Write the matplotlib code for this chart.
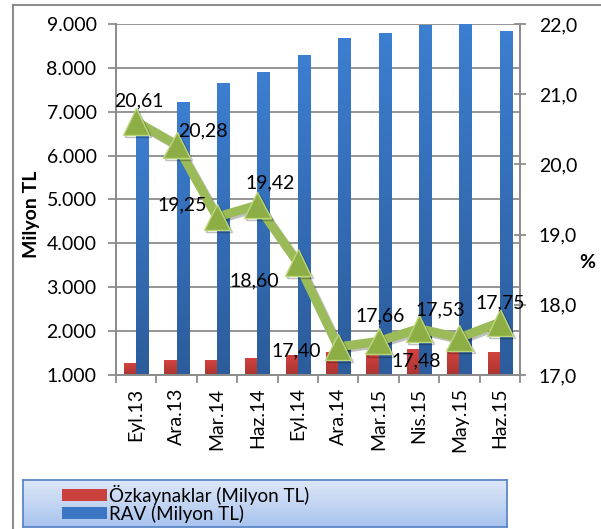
import numpy as np
import matplotlib
matplotlib.use("Agg")
import matplotlib.pyplot as plt
from matplotlib.colors import LinearSegmentedColormap
from matplotlib.patches import Patch
from matplotlib.lines import Line2D
from matplotlib import patheffects as pe

plt.rcParams['font.family'] = ['Lato', 'DejaVu Sans']

periods = ["Eyl.13", "Ara.13", "Mar.14", "Haz.14", "Eyl.14",
           "Ara.14", "Mar.15", "Nis.15", "May.15", "Haz.15"]
ozkaynak = [1270, 1340, 1320, 1365, 1450, 1510, 1480, 1570, 1530, 1520]
rav = [6600, 7215, 7650, 7900, 8290, 8675, 8790, 8975, 9030, 8840]
oran = [20.61, 20.28, 19.25, 19.42, 18.60, 17.40, 17.48, 17.66, 17.53, 17.75]

# where each value label sits relative to its marker (points)
label_offsets = [(2, 15), (19, 10), (-25, 9), (9, 16), (-31, -13),
                 (-30, -3), (27, -14), (-28, 9), (-14, 20), (0, 14)]

GRAY = "#8c8c8c"
FS = 14
red_cmap = LinearSegmentedColormap.from_list("r", ["#a93430", "#d2433f"])
blue_cmap = LinearSegmentedColormap.from_list("b", ["#2c5c9b", "#3c7ed0"])


def shade_bars(ax, bars, cmap):
    grad = np.linspace(0, 1, 64).reshape(-1, 1)
    for b in bars:
        x0, y0 = b.get_x(), b.get_y()
        w, h = b.get_width(), b.get_height()
        ax.imshow(grad, extent=[x0, x0 + w, y0, y0 + h], origin="lower",
                  aspect="auto", cmap=cmap, zorder=2, interpolation="bilinear")


fig = plt.figure(figsize=(6.01, 5.29), dpi=100)
ax = fig.add_axes([116 / 601, 1 - 375 / 529, 404 / 601, 351 / 529])
ax2 = ax.twinx()

x = np.arange(len(periods))
w = 0.3
b1 = ax.bar(x - w / 2, np.array(ozkaynak) - 1000, w, bottom=1000, color="#c9403c", zorder=1)
b2 = ax.bar(x + w / 2, np.array(rav) - 1000, w, bottom=1000, color="#3a76c3", zorder=1)
shade_bars(ax, b1, red_cmap)
shade_bars(ax, b2, blue_cmap)

ax.set_xlim(-0.5, len(periods) - 0.5)
ax.set_ylim(1000, 9000)
ax.set_yticks(np.arange(1000, 9001, 1000))
ax.set_yticklabels([f"{v:,.0f}".replace(",", ".") for v in range(1000, 9001, 1000)])
ax.yaxis.grid(True, color=GRAY, lw=1.3, zorder=0)
ax.set_axisbelow(True)
ax.set_xticks(x)
ax.set_xticklabels(periods, rotation=90)
ax.set_xticks(np.arange(-0.5, len(periods)), minor=True)
ax.tick_params(axis="x", which="major", length=0, pad=9, labelsize=FS)
ax.tick_params(axis="x", which="minor", length=5.5, width=1.3, color=GRAY)
ax.tick_params(axis="y", length=6, width=1.3, color=GRAY, pad=8, labelsize=FS)
for s in ["left", "bottom", "right"]:
    ax.spines[s].set_color(GRAY)
    ax.spines[s].set_linewidth(1.3)
ax.spines["top"].set_visible(False)

ax2.plot(x, oran, color="#9bbb59", lw=6.5, marker="^", ms=19,
         mfc="#8cae44", mec="#bcd67e", mew=1, zorder=3,
         path_effects=[pe.SimpleLineShadow(offset=(1.5, -1.5), alpha=0.25), pe.Normal()])
ax2.set_ylim(17, 22)
ax2.set_yticks(np.arange(17, 22.01, 1))
ax2.set_yticklabels([f"{v:.1f}".replace(".", ",") for v in np.arange(17, 22.01, 1)])
ax2.tick_params(axis="y", direction="inout", length=9, width=1.3, color=GRAY,
                pad=9, labelsize=FS)
for s in ["left", "bottom", "right"]:
    ax2.spines[s].set_color(GRAY)
    ax2.spines[s].set_linewidth(1.3)
ax2.spines["top"].set_visible(False)

for xi, v, off in zip(x, oran, label_offsets):
    ax2.annotate(f"{v:.2f}".replace(".", ","), (xi, v), xytext=off,
                 textcoords="offset points", ha="center", va="center",
                 fontsize=FS, zorder=4)

fig.text(31 / 601, 1 - 214 / 529, "Milyon TL", rotation=90, ha="center",
         va="center", fontsize=FS, fontweight="bold")
fig.text(587 / 601, 1 - 262 / 529, "%", ha="center", va="center",
         fontsize=FS, fontweight="bold")

# outer chart frame
fx = 13 / 601
fy = 1 - 5 / 529
fig.add_artist(Line2D([fx, fx], [0, fy], color=GRAY, lw=1.5))
fig.add_artist(Line2D([fx, 1], [fy, fy], color=GRAY, lw=1.5))

# legend box with a soft blue gradient
lax = fig.add_axes([23 / 601, 2 / 529, 484 / 601, 47 / 529])
lgrad = np.linspace(0, 1, 64).reshape(-1, 1)
lax.imshow(lgrad, extent=[0, 1, 0, 1], origin="lower", aspect="auto",
           cmap=LinearSegmentedColormap.from_list("l", ["#a9c4ee", "#dde7f8"]))
lax.set_xticks([])
lax.set_yticks([])
for s in lax.spines.values():
    s.set_color("#5b87c8")
    s.set_linewidth(1.3)
handles = [Patch(facecolor="#c9403c", label="Özkaynaklar (Milyon TL)"),
           Patch(facecolor="#3a76c3", label="RAV (Milyon TL)")]
lax.legend(handles=handles, loc="center left", bbox_to_anchor=(0.062, 0.5),
           frameon=False, fontsize=13.5, handlelength=2.4, handleheight=0.65,
           handletextpad=0.1, labelspacing=0.0, borderpad=0)

fig.savefig("out.png", dpi=100)
